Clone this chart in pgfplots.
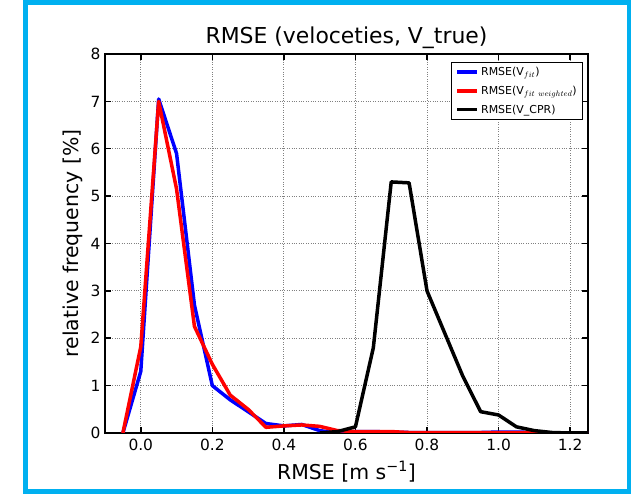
\documentclass[border=0pt]{standalone}
\usepackage{fontspec}
\setmainfont{DejaVu Sans}
\usepackage{pgfplots}
\pgfplotsset{compat=1.18}
\definecolor{framecyan}{RGB}{0,176,240}
\definecolor{mplblue}{RGB}{0,0,255}
\definecolor{mplred}{RGB}{255,0,0}
\begin{document}
\begin{tikzpicture}
\useasboundingbox (0bp,0bp) rectangle (631bp,496bp);
\fill[white] (0bp,0bp) rectangle (631bp,496bp);
\draw[framecyan, line width=5bp] (25bp,4bp) rectangle (629bp,493bp);
\begin{axis}[
  at={(105bp,63bp)}, anchor=south west, scale only axis,
  width=483bp, height=379bp,
  xmin=-0.1, xmax=1.25, ymin=0, ymax=8,
  xtick={0,0.2,0.4,0.6,0.8,1.0,1.2},
  ytick={0,1,2,3,4,5,6,7,8},
  /pgf/number format/assume math mode=true,
  tick label style={font=\fontsize{15.5}{17}\selectfont},
  xticklabel style={yshift=-3bp, /pgf/number format/.cd, fixed, fixed zerofill, precision=1},
  yticklabel style={xshift=-1bp},
  tick align=inside, tick pos=both,
  xticklabel pos=lower, yticklabel pos=left,
  major tick length=6bp,
  every tick/.style={black, line width=1.5bp},
  axis line style={line width=2.5bp},
  grid=major, grid style={dotted, gray, line width=0.8bp},
  title={RMSE (veloceties, V\_true)},
  title style={font=\fontsize{22}{24}\selectfont, at={(axis description cs:0.5,1.0124)}, anchor=base},
  xlabel={RMSE [m s\textsuperscript{−1}]},
  ylabel={relative frequency [\%]},
  xlabel style={font=\fontsize{20.5}{22}\selectfont, at={(axis description cs:0.5,-0.1214)}, anchor=base},
  ylabel style={font=\fontsize{20.5}{22}\selectfont, at={(axis description cs:-0.0663,0.5)}, anchor=center},
  legend style={at={(0.9896,0.979)}, anchor=north east, draw=black, line width=0.6bp,
    font=\fontsize{11}{13}\selectfont, cells={anchor=west}, row sep=5bp,
    inner xsep=4bp, inner ysep=3bp},
  legend image code/.code={\draw[#1] (0bp,0bp) -- (20bp,0bp);},
  every axis plot/.append style={line width=3.5bp, line join=round},
]
\addplot[mplblue] coordinates {
(-0.05,0) (0,1.3) (0.05,7.05) (0.1,5.9) (0.15,2.7) (0.2,1.0) (0.25,0.7) (0.3,0.45)
(0.35,0.2) (0.4,0.15) (0.45,0.18) (0.5,0.05) (0.55,0.0) (0.6,0.03) (0.65,0.03)
(0.7,0.02) (0.75,0.01) (0.8,0.01) (0.85,0.01) (0.9,0.01) (0.95,0.01) (1.0,0.02)
(1.05,0.02) (1.1,0.01) (1.15,0.0) (1.2,0.0) (1.25,0.0)};
\addlegendentry{RMSE(V$_{fit}$)}
\addplot[mplred] coordinates {
(-0.05,0) (0,1.82) (0.05,7.0) (0.1,5.15) (0.15,2.25) (0.2,1.45) (0.25,0.8) (0.3,0.5)
(0.35,0.12) (0.4,0.15) (0.45,0.17) (0.5,0.14) (0.55,0.05) (0.6,0.03) (0.65,0.03)
(0.7,0.03) (0.75,0.01) (0.8,0.01) (0.85,0.01) (0.9,0.01) (0.95,0.01) (1.0,0.01)
(1.05,0.01) (1.1,0.01) (1.15,0.0) (1.2,0.0) (1.25,0.0)};
\addlegendentry{RMSE(V$_{fit\ weighted}$)}
\addplot[black] coordinates {
(0.5,0) (0.55,0.03) (0.6,0.13) (0.65,1.8) (0.7,5.3) (0.75,5.28) (0.8,3.0)
(0.85,2.1) (0.9,1.2) (0.95,0.45) (1.0,0.38) (1.05,0.13) (1.1,0.05) (1.15,0.01)
(1.2,0.0) (1.25,0.0)};
\addlegendentry{RMSE(V\_CPR)}
\end{axis}
\end{tikzpicture}
\end{document}
